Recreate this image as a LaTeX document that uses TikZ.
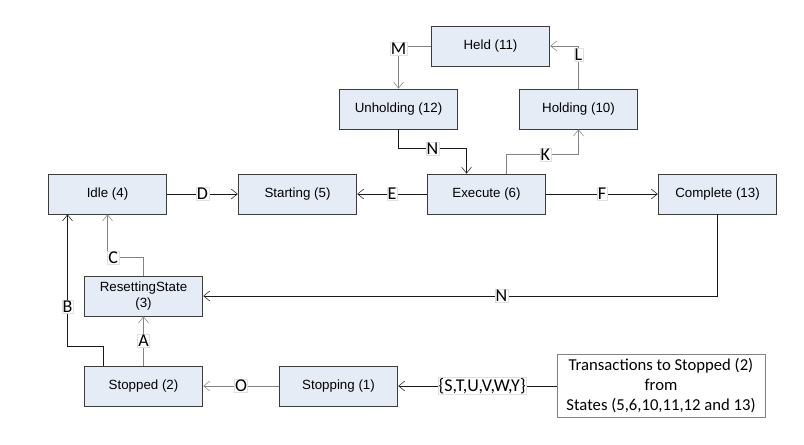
\documentclass[tikz,border=0pt]{standalone}
\usepackage{fontspec}
\setmainfont{Liberation Sans}
\newfontfamily\lblfont{Carlito}
\usetikzlibrary{arrows.meta,positioning}
\definecolor{stfill}{RGB}{230,236,246}
\definecolor{stline}{RGB}{60,60,60}
\definecolor{lnkgray}{RGB}{130,130,130}

\begin{document}
\begin{tikzpicture}[
    x=0.75pt,y=-0.75pt,
    state/.style={rectangle,draw=stline,fill=stfill,semithick,
      minimum width=89pt,minimum height=30pt,align=center,
      font=\fontsize{10}{12}\selectfont,inner sep=1pt},
    note/.style={rectangle,draw=lnkgray,semithick,minimum width=156pt,
      minimum height=47pt,align=center,inner sep=1pt,
      font=\lblfont\fontsize{12.5}{15}\selectfont},
    lbl/.style={fill=white,draw=black!12,inner sep=0.6pt,
      font=\lblfont\fontsize{13.5}{14}\selectfont},
    arr/.style={-{Straight Barb[length=1.6mm,width=2.6mm]},draw=black!90},
    garr/.style={arr,draw=lnkgray}
  ]
    \useasboundingbox (0,0) rectangle (804,445);

    \node[state] (held) at (490.5,46) {Held (11)};
    \node[state] (unhold) at (398.5,109) {Unholding (12)};
    \node[state] (holding) at (578.5,109) {Holding (10)};
    \node[state] (idle) at (107.5,194) {Idle (4)};
    \node[state] (start) at (297.5,194) {Starting (5)};
    \node[state] (exec) at (486.5,194) {Execute (6)};
    \node[state] (compl) at (717.5,194) {Complete (13)};
    \node[state] (reset) at (143.5,296) {ResettingState\\(3)};
    \node[state] (stopped) at (143.5,386) {Stopped (2)};
    \node[state] (stopping) at (338.5,386) {Stopping (1)};
    \node[note] (trans) at (661,386) {Transactions to Stopped (2)\\from\\States (5,6,10,11,12 and 13)};

    \draw[garr] (held.west) -| node[lbl,pos=0.53] {M} (unhold.north);
    \draw[garr] (holding.north) |- node[lbl,pos=0.4] {L} (held.east);
    \draw[arr] (unhold.south) -- ++(0,19) -| node[lbl,pos=0.25] {N} ([xshift=-15pt]exec.north);
    \draw[garr] ([xshift=15pt]exec.north) -- ++(0,-19) -| node[lbl,pos=0.27] {K} (holding.south);

    \draw[arr] (idle) -- node[lbl] {D} (start);
    \draw[arr] (exec) -- node[lbl] {E} (start);
    \draw[arr] (exec) -- node[lbl] {F} (compl);
    \draw[arr] (compl.south) |- node[lbl,pos=0.71] {N} (reset.east);

    \draw[garr] (reset.north) -- ++(0,-18) -| node[lbl,pos=0.42] {C} (idle.south);
    \draw[arr] ([xshift=-30pt]stopped.north) -- ++(0,-19) -| node[lbl,pos=0.65] {B} ([xshift=-30pt]idle.south);
    \draw[garr] (stopped) -- node[lbl] {A} (reset);
    \draw[garr] (stopping) -- node[lbl] {O} (stopped);
    \draw[arr] (trans) -- node[lbl,pos=0.47] {\{S,T,U,V,W,Y\}} (stopping);
  \end{tikzpicture}
\end{document}
